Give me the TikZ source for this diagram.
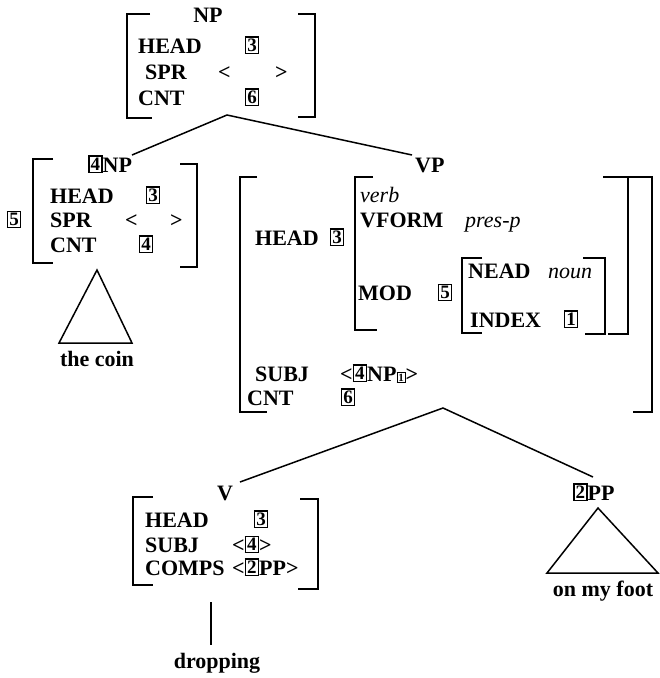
\documentclass[tikz,border=0pt]{standalone}
\usepackage{fontspec}
\setmainfont{Liberation Serif}
\newcommand{\bx}[1]{{\setlength{\fboxsep}{1pt}\setlength{\fboxrule}{1.5pt}\raisebox{1.5pt}{\fbox{\fontsize{19}{19}\selectfont\bfseries #1}}}}
\newcommand{\sbx}[1]{{\setlength{\fboxsep}{0.8pt}\setlength{\fboxrule}{1pt}\fbox{\fontsize{11}{11}\selectfont #1}}}
\begin{document}
\begin{tikzpicture}[x=1pt,y=-1pt,
  every node/.style={inner sep=0pt, font=\fontsize{22}{24}\selectfont\bfseries},
  t/.style={anchor=base west},
  c/.style={anchor=base},
  ln/.style={line width=1.5pt},
  br/.style={line width=1.4pt}]
\useasboundingbox (0,0) rectangle (660,678);

% ---------- top NP ----------
\node[c] (np) at (208,22) {NP};
\node[t] (npH) at (138,53) {HEAD};
\node[c] (npH3) at (252,53) {\bx{3}};
\node[t] (npS) at (145,79) {SPR};
\node[t] (npSl) at (218,79) {<};
\node[t] (npSr) at (275,79) {>};
\node[t] (npC) at (138,105) {CNT};
\node[c] (npC6) at (252,105) {\bx{6}};
\draw[br] (150,14) -- (127,14) -- (127,118) -- (152,118);
\draw[br] (298,14) -- (315,14) -- (315,117) -- (298,117);

% ---------- left NP ----------
\node[t] (lnp) at (88,172) {\bx{4}NP};
\node[t] (lnpH) at (50,203) {HEAD};
\node[c] (lnpH3) at (153,203) {\bx{3}};
\node[t] (lnpS) at (50,227) {SPR};
\node[t] (lnpSl) at (125,227) {<};
\node[t] (lnpSr) at (170,227) {>};
\node[t] (lnpC) at (50,252) {CNT};
\node[c] (lnpC4) at (146,252) {\bx{4}};
\node[c] (lnp5) at (14,227) {\bx{5}};
\draw[br] (53,159) -- (33,159) -- (33,263) -- (53,263);
\draw[br] (180,164) -- (197,164) -- (197,267) -- (180,267);
\draw[ln] (97,270) -- (59,343) -- (132,343) -- cycle;
\node[c] (coin) at (97,366) {the coin};

% ---------- VP ----------
\node[t] (vp) at (415,172) {VP};
\node[t] (vpH) at (255,245) {HEAD};
\node[c] (vpH3) at (337,245) {\bx{3}};
\node[t] (verb) at (360,202) {\mdseries\itshape verb};
\node[t] (vform) at (360,227) {VFORM};
\node[t] (presp) at (465,227) {\mdseries\itshape pres-p};
\node[t] (mod) at (358,300) {MOD};
\node[c] (mod5) at (445,300) {\bx{5}};
\node[t] (nead) at (468,278) {NEAD};
\node[t] (noun) at (548,278) {\mdseries\itshape noun};
\node[t] (index) at (470,327) {INDEX};
\node[c] (index1) at (571,327) {\bx{1}};
\node[t] (subj) at (255,381) {SUBJ};
\node[t] (subjv) at (340,381) {<\bx{4}NP\sbx{1}>};
\node[t] (vpC) at (247,405) {CNT};
\node[c] (vpC6) at (348,405) {\bx{6}};
% outer bracket
\draw[br] (257,177) -- (240,177) -- (240,412) -- (267,412);
\draw[br] (603,177) -- (652,177) -- (652,412) -- (633,412);
% HEAD value bracket
\draw[br] (373,177) -- (355,177) -- (355,330) -- (377,330);
\draw[br] (628,177) -- (628,334) -- (608,334);
% MOD value bracket
\draw[br] (482,258) -- (462,258) -- (462,333) -- (482,333);
\draw[br] (583,258) -- (605,258) -- (605,334) -- (585,334);

% ---------- V ----------
\node[c] (v) at (225,500) {V};
\node[t] (vH) at (145,527) {HEAD};
\node[c] (vH3) at (261,527) {\bx{3}};
\node[t] (vS) at (145,552) {SUBJ};
\node[t] (vSv) at (232,552) {<\bx{4}>};
\node[t] (vC) at (145,575) {COMPS};
\node[t] (vCv) at (232,575) {<\bx{2}PP>};
\draw[br] (153,497) -- (133,497) -- (133,585) -- (153,585);
\draw[br] (300,499) -- (318,499) -- (318,589) -- (298,589);
\node[c] (drop) at (217,668) {dropping};
\coordinate (vbot) at (211,602);
\coordinate (dtop) at (211,645);
\draw[ln] (vbot) -- (dtop);

% ---------- PP ----------
\node[t] (pp) at (573,500) {\bx{2}PP};
\draw[ln] (598,508) -- (547,573) -- (658,573) -- cycle;
\node[c] (foot) at (603,596) {on my foot};

% ---------- tree edges ----------
\coordinate (npA) at (227,115);
\coordinate (lnpE) at (132,155);
\coordinate (vpE) at (412,155);
\draw[ln] (lnpE) -- (npA) -- (vpE);
\coordinate (vpA) at (443,408);
\coordinate (vE) at (240,482);
\coordinate (ppE) at (593,477);
\draw[ln] (vE) -- (vpA) -- (ppE);
\end{tikzpicture}
\end{document}
